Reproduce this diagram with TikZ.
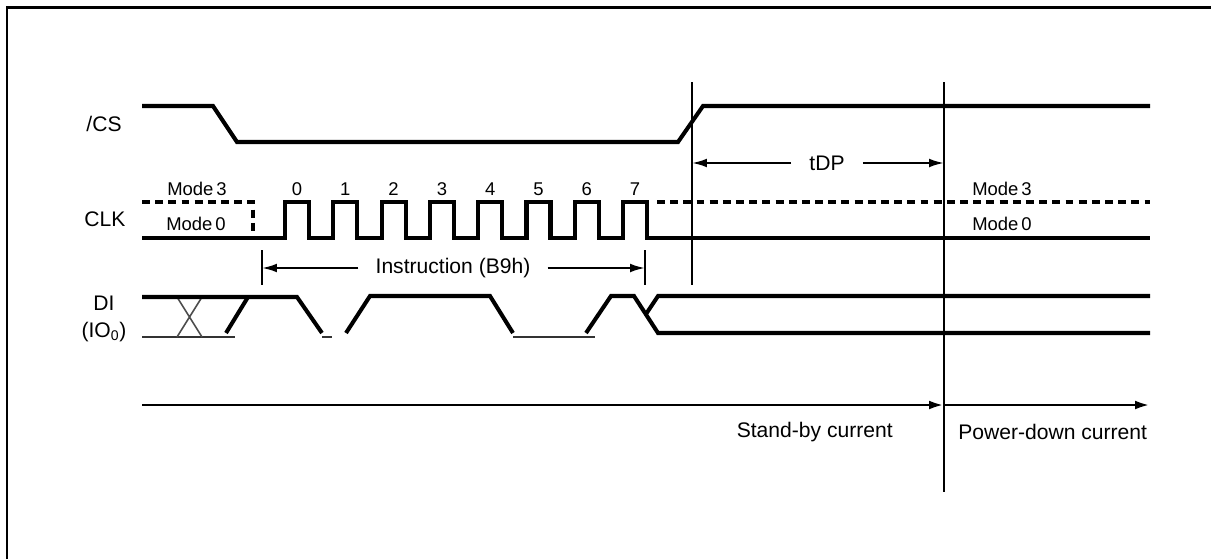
\documentclass[tikz,border=0pt]{standalone}
\usepackage{fontspec}
\setmainfont{Liberation Sans}
\usepackage{tikz}
\usetikzlibrary{positioning}
\usetikzlibrary{calc}
\usetikzlibrary{arrows.meta}

\tikzset{
    wave/.style={line width=2.3pt},
    thinwave/.style={line width=1.2pt, black!80},
    modeline/.style={line width=2pt, dash pattern=on 4.5pt off 3pt},
    marker/.style={line width=1.1pt},
    dim/.style={-{Latex[length=8.5pt, width=5pt]}, line width=1.2pt},
    sig/.style={font=\fontsize{12}{14}\selectfont, inner sep=0pt},
    small/.style={font=\fontsize{10.5}{12}\selectfont, inner sep=0pt},
}

\begin{document}
\begin{tikzpicture}[x=0.02cm, y=-0.02cm]
    \fill[white] (0,0) rectangle (1211,559);
    \useasboundingbox (0,0) rectangle (1211,559);
    \draw[line width=1.7pt] (7,559) -- (7,7) -- (1211,7);

    % signal names
    \node[sig] (cs) at (104,124) {/CS};
    \node[sig] (clk) at (105,219) {CLK};
    \node[sig] (di) at (104,303) {DI};
    \node[sig] (io) at (104,332) {(IO\textsubscript{0})};

    % /CS
    \draw[wave] (142,106) -- (213,106) -- (237,142) -- (678,142) -- (703,106) -- (1150,106);

    % CLK
    \draw[modeline] (142,202) -- (253,202) -- (253,238);
    \draw[modeline] (657,202) -- (1150,202);
    \draw[wave] (142,238) foreach \i in {0,...,7} {
        -- ({285+48.3*\i},238) -- ++(0,-36) -- ++(24,0) -- ++(0,36)
    } -- (1150,238);
    \foreach \i in {0,...,7}
        \node[small] (bit\i) at ({297+48.3*\i},189) {\i};
    \node[small] (modeA) at (197,189) {Mode\,3};
    \node[small] (modeB) at (196,224) {Mode\,0};
    \node[small] (modeC) at (1002,189) {Mode\,3};
    \node[small] (modeD) at (1002,224) {Mode\,0};

    % DI
    \draw[thinwave] (142,337) -- (235,337);
    \draw[thinwave, line width=0.9pt, black!70] (177,297) -- (202,337) (177,337) -- (202,297);
    \draw[wave] (142,297) -- (297,297) -- (322,333);
    \draw[wave] (226,333) -- (248,297);
    \draw[thinwave] (322,337) -- (332,337);
    \draw[wave] (346,333) -- (370,296) -- (490,296) -- (513,333);
    \draw[thinwave] (513,337) -- (595,337);
    \draw[wave] (586,333) -- (611,296) -- (634,296) -- (658,333) -- (1150,333);
    \draw[wave] (646,314) -- (658,296) -- (1150,296);

    % markers
    \coordinate (instrL) at (262,268);
    \coordinate (instrR) at (645,268);
    \draw[marker] (262,250) -- (262,285);
    \draw[marker] (645,250) -- (645,285);
    \node[sig, inner xsep=0.34cm] (instr) at (453,268) {Instruction (B9h)};
    \draw[dim] (instr) -- (instrL);
    \draw[dim] (instr) -- (instrR);

    \coordinate (csHigh) at (692,163);
    \coordinate (pdStart) at (944,163);
    \draw[marker] (692,82) -- (692,285);
    \draw[marker] (944,82) -- (944,492);
    \node[sig, inner xsep=0.36cm] (tdp) at (827,163) {tDP};
    \draw[dim] (tdp) -- (csHigh);
    \draw[dim] (tdp) -- (pdStart);

    % current
    \coordinate (iStart) at (142,405);
    \coordinate (iMid) at (944,405);
    \coordinate (iEnd) at (1150,405);
    \draw[dim, line width=1.6pt] (iStart) -- (iMid);
    \draw[dim, line width=1.6pt] (iMid) -- (iEnd);
    \node[sig, anchor=east] (standby) at (893,432) {Stand-by current};
    \node[sig, anchor=west] (powerdown) at (958,432) {Power-down current};
\end{tikzpicture}
\end{document}
